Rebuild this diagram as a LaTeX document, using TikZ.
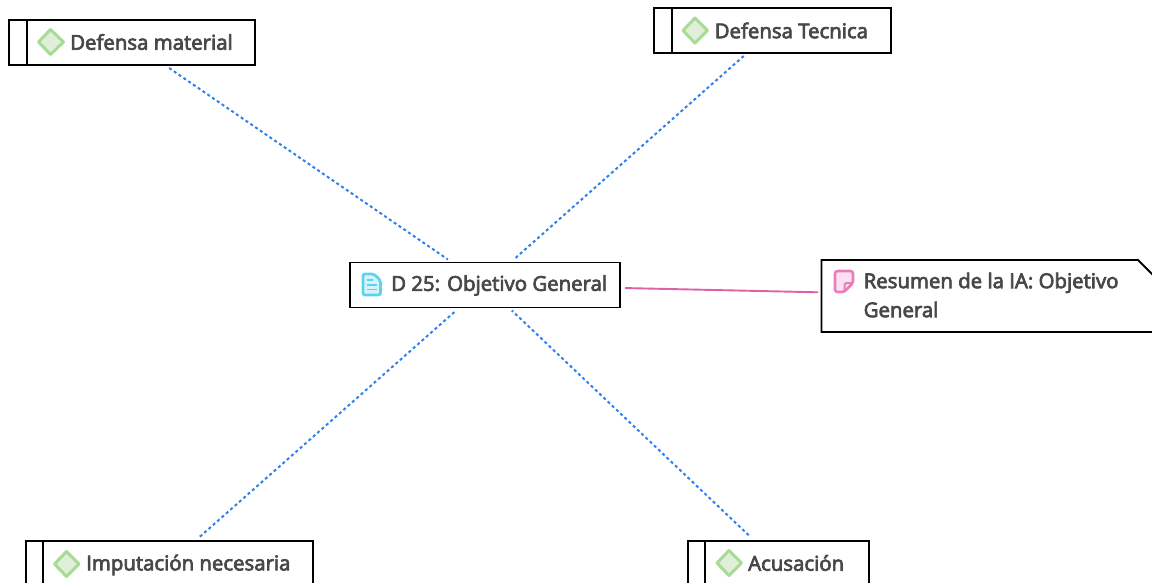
\documentclass[tikz,border=0pt]{standalone}
\usepackage{fontspec}
\setmainfont[FakeBold=3.5]{Open Sans}
\definecolor{txt}{HTML}{484848}
\definecolor{lnkblue}{HTML}{2F80ED}
\definecolor{lnkpink}{HTML}{E060A8}
\definecolor{gstroke}{HTML}{A8DC94}
\definecolor{gfill}{HTML}{DFEFD9}
\definecolor{cstroke}{HTML}{5CD2F0}
\definecolor{cfill}{HTML}{D6F3FB}
\definecolor{pstroke}{HTML}{E87DBE}
\definecolor{pfill}{HTML}{FBE0F0}
\tikzset{
  box/.style={draw=black,line width=1.9pt,fill=white,rectangle,inner sep=0pt,outer sep=3pt},
  lab/.style={text=txt,font=\fontsize{20.4}{29}\selectfont,anchor=west,inner sep=0pt,align=left},
  dotlink/.style={draw=lnkblue,line width=2pt,dash pattern=on 3pt off 2.8pt},
  solidlink/.style={draw=lnkpink,line width=1.9pt},
  diam/.style={draw=gstroke,fill=gfill,line width=3pt,line join=round},
  bar/.style={draw=black,line width=1.9pt}
}
\begin{document}
\begin{tikzpicture}[x=1pt,y=-1pt]
\useasboundingbox (0,0) rectangle (1152,583);
\clip (0,0) rectangle (1152,583);
% boxes
\node[box,minimum width=246pt,minimum height=45pt] (dm) at (132,42.5) {};
\node[box,minimum width=237pt,minimum height=45pt] (dt) at (772.5,30.5) {};
\node[box,minimum width=270pt,minimum height=45pt] (obj) at (485,285) {};
\node[box,minimum width=287pt,minimum height=45pt] (imp) at (169.5,563.5) {};
\node[box,minimum width=181pt,minimum height=45pt] (acu) at (778.5,563.5) {};
\node[rectangle,minimum width=334pt,minimum height=72pt,inner sep=0pt,outer sep=3pt] (res) at (988,296) {};
\draw[bar,fill=white] (821.5,260)--(1138,260)--(1155,277)--(1155,332)--(821.5,332)--cycle;
% connectors
\draw[dotlink] (dm) -- (obj);
\draw[dotlink] (dt) -- (obj);
\draw[dotlink,shorten <=2pt] (imp) -- (obj);
\draw[dotlink,shorten <=4pt] (acu) -- (obj);
\draw[solidlink,shorten <=2pt] (obj) -- (res);
% side bars
\draw[bar] (27,20) -- (27,65);
\draw[bar] (672,8) -- (672,53);
\draw[bar] (43,541) -- (43,586);
\draw[bar] (705,541) -- (705,586);
% icons
\draw[diam] (50.5,29.5)--(63.5,42)--(50.5,54.5)--(38.5,42)--cycle;
\draw[diam] (695,18)--(707.5,30.5)--(695,43)--(683,30.5)--cycle;
\draw[diam] (66.5,551.5)--(79,564)--(66.5,576.5)--(54.5,564)--cycle;
\draw[diam] (729,550.5)--(741.5,563)--(729,575.5)--(717,563)--cycle;
\draw[draw=cstroke,fill=cfill,line width=2.6pt,line join=round,rounded corners=2pt]
  (363,274)--(374,274)--(380.5,280.5)--(380.5,295)--(363,295)--cycle;
\draw[draw=cstroke,line width=1.6pt] (366.5,280)--(373,280) (366.5,285)--(377,285) (366.5,289.5)--(377,289.5);
\draw[draw=pstroke,fill=pfill,line width=2.6pt,line join=round,rounded corners=2.5pt]
  (835,271)--(853,271)--(853,283)--(844,292)--(835,292)--cycle;
\draw[draw=pstroke,line width=2pt,rounded corners=1.5pt] (853,283)--(844.5,283)--(844.5,292);
% labels
\node[lab] (tdm) at (70,42) {Defensa material};
\node[lab] (tdt) at (714.5,30.5) {Defensa Tecnica};
\node[lab] (tobj) at (391,285.5) {D 25: Objetivo General};
\node[lab] (tres) at (863.5,295) {Resumen de la IA: Objetivo\\General};
\node[lab] (timp) at (86,565) {Imputación necesaria};
\node[lab] (tacu) at (748,563) {Acusación};
\end{tikzpicture}
\end{document}
